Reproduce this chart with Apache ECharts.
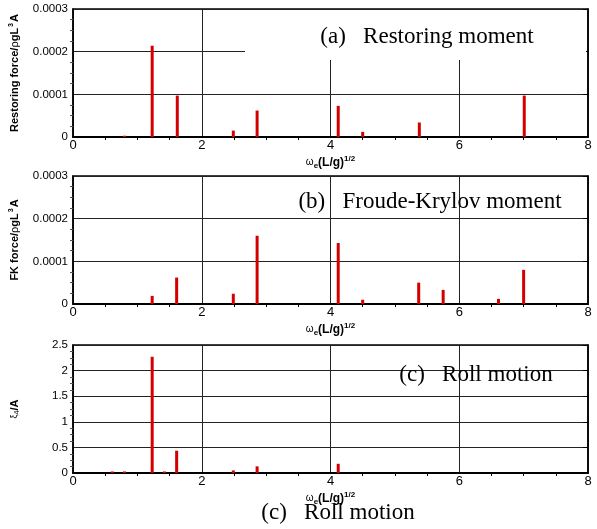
<!DOCTYPE html>
<html>
<head>
<meta charset="utf-8">
<script src="https://cdn.jsdelivr.net/npm/echarts@6/dist/echarts.min.js"></script>
<style>html,body{margin:0;padding:0;background:#fff;}#c{width:597px;height:529px;}</style>
</head>
<body>
<div id="c"></div>
<script>
// Data: [omega_e (L/g)^1/2, amplitude]
const restoringX = [0.80, 1.23, 1.62, 2.49, 2.86, 4.12, 4.50, 5.38, 7.01];
const restoringY = [0.000003, 0.000214, 0.000097, 0.000015, 0.000062, 0.000073, 0.000012, 0.000034, 0.000097];
const fkX = [1.23, 1.61, 2.49, 2.86, 4.12, 4.50, 5.37, 5.75, 6.61, 7.00];
const fkY = [0.000019, 0.000062, 0.000024, 0.000160, 0.000143, 0.000010, 0.000050, 0.000033, 0.000012, 0.000080];
const rollX = [0.61, 0.80, 1.23, 1.42, 1.61, 2.49, 2.86, 4.12];
const rollY = [0.03, 0.03, 2.27, 0.03, 0.435, 0.05, 0.13, 0.18];
const xTicks = [0, 2, 4, 6, 8];
const forceTicks = [0, 0.0001, 0.0002, 0.0003];
const rollTicks = [0, 0.5, 1, 1.5, 2, 2.5];

const chart = echarts.init(document.getElementById('c'));
const pair = (xs, ys) => xs.map((x, i) => [x, ys[i]]);
const grids = [
  {left: 73, top: 9, width: 515, height: 128},
  {left: 73, top: 176, width: 515, height: 128},
  {left: 73, top: 345, width: 515, height: 128}
];
const xName = '{w|ω}{e|e}{b|(L/g)}{s|1/2}';
const xNameRich = {
  w: {fontSize: 10, fontFamily: 'Liberation Sans', color: '#000', verticalAlign: 'middle'},
  e: {fontSize: 8, fontWeight: 'bold', fontFamily: 'Liberation Sans', color: '#000', padding: [7, 0, 0, 0]},
  b: {fontSize: 12, fontWeight: 'bold', fontFamily: 'Liberation Sans', color: '#000'},
  s: {fontSize: 8, fontWeight: 'bold', fontFamily: 'Liberation Sans', color: '#000', padding: [0, 0, 7, 0]}
};
function xAxis(gi) {
  return {
    type: 'value', gridIndex: gi, min: 0, max: 8, interval: 2,
    name: xName, nameLocation: 'middle', nameGap: 18,
    nameTextStyle: {rich: xNameRich},
    axisLine: {show: true, onZero: false, lineStyle: {color: '#000', width: 2}},
    axisTick: {show: false},
    minorTick: {show: true, splitNumber: 4, length: 3, lineStyle: {color: '#000'}},
    axisLabel: {fontSize: 13, fontFamily: 'Liberation Sans', color: '#000', margin: 2,
      customValues: xTicks},
    splitLine: {show: true, lineStyle: {color: '#222', width: 1}}
  };
}
function yAxis(gi, max, interval, name, rich, fmt) {
  return {
    type: 'value', gridIndex: gi, min: 0, max: max, interval: interval,
    name: name, nameLocation: 'middle', nameGap: 52, nameRotate: 90,
    nameTextStyle: {rich: rich},
    axisLine: {show: true, lineStyle: {color: '#000', width: 1.5}},
    axisTick: {show: false},
    minorTick: {show: true, splitNumber: 4, length: 3, lineStyle: {color: '#555'}},
    axisLabel: {fontSize: 11.5, fontFamily: 'Liberation Sans', color: '#000', margin: 5, formatter: fmt},
    splitLine: {show: true, lineStyle: {color: '#222', width: 1}}
  };
}
function yRight(gi, max, interval) {
  return {
    type: 'value', gridIndex: gi, min: 0, max: max, interval: interval, position: 'right',
    axisLine: {show: true, lineStyle: {color: '#000', width: 1.5}},
    axisTick: {show: true, inside: true, length: 5, lineStyle: {color: '#000'}},
    axisLabel: {show: false}, splitLine: {show: false}
  };
}
const fFmt = v => forceTicks.indexOf(v) >= 0 ? (v === 0 ? '0' : v.toFixed(4)) : '';
const rFmt = v => String(v);
const bold = {fontSize: 11, fontWeight: 'bold', fontFamily: 'Liberation Sans', color: '#000'};
const restRich = {
  b: bold,
  r: {fontSize: 11, fontFamily: 'Liberation Sans', color: '#000'},
  s: {fontSize: 7, fontWeight: 'bold', fontFamily: 'Liberation Sans', color: '#000', padding: [0, 1, 6, 1]}
};
const rollRich = {
  x: {fontSize: 9, fontFamily: 'Liberation Sans', color: '#000'},
  n: {fontSize: 7, fontFamily: 'Liberation Sans', color: '#000', padding: [6, 0, 0, 0]},
  b: {fontSize: 11, fontWeight: 'bold', fontFamily: 'Liberation Sans', color: '#000'}
};
function bars(gi, data) {
  return {
    type: 'bar', xAxisIndex: gi, yAxisIndex: gi * 2, data: data, barWidth: 3,
    itemStyle: {color: '#d40000'}, z: 5, silent: true
  };
}
const serif = {fontFamily: 'Liberation Serif', fontSize: 23, fill: '#000'};
chart.setOption({
  animation: false,
  backgroundColor: '#fff',
  grid: grids.map(g => Object.assign({show: true, borderColor: '#000', borderWidth: 1.5, backgroundColor: 'transparent'}, g)),
  xAxis: [xAxis(0), xAxis(1), xAxis(2)],
  yAxis: [
    yAxis(0, 0.0003, 0.0001, '{b|Restoring force/}{r|ρ}{b|gL}{s|3}{b|A}', restRich, fFmt), yRight(0, 0.0003, 0.0001),
    yAxis(1, 0.0003, 0.0001, '{b|FK force/}{r|ρ}{b|gL}{s|3}{b|A}', restRich, fFmt), yRight(1, 0.0003, 0.0001),
    yAxis(2, 2.5, 0.5, '{x|ξ}{n|4}{b|/A}', rollRich, rFmt), yRight(2, 2.5, 0.5)
  ],
  series: [
    bars(0, pair(restoringX, restoringY)),
    bars(1, pair(fkX, fkY)),
    bars(2, pair(rollX, rollY))
  ],
  graphic: [
    {type: 'rect', shape: {x: 245, y: 10, width: 341, height: 50}, style: {fill: '#fff'}, z: 100},
    {type: 'text', x: 427, y: 37, z: 101, style: Object.assign({text: '(a)   Restoring moment', align: 'center', verticalAlign: 'middle'}, serif)},
    {type: 'text', x: 430, y: 202, z: 101, style: Object.assign({text: '(b)   Froude-Krylov moment', align: 'center', verticalAlign: 'middle'}, serif)},
    {type: 'text', x: 476, y: 375, z: 101, style: Object.assign({text: '(c)   Roll motion', align: 'center', verticalAlign: 'middle'}, serif)},
    {type: 'text', x: 338, y: 513, z: 101, style: Object.assign({text: '(c)   Roll motion', align: 'center', verticalAlign: 'middle'}, serif)}
  ]
});
</script>
</body>
</html>
